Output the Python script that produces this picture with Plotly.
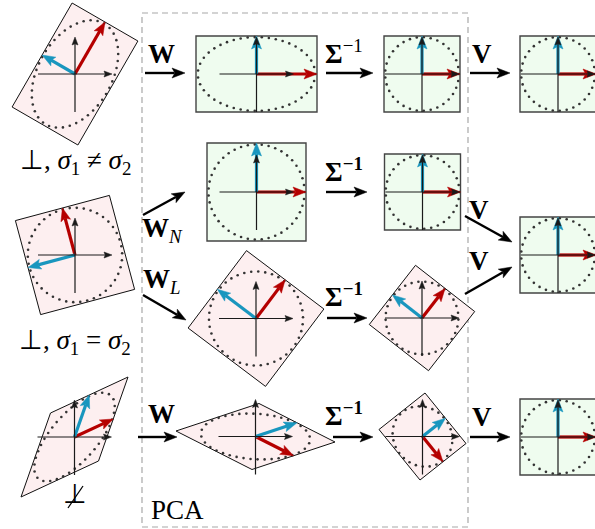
import numpy as np
import plotly.graph_objects as go

W, H = 595, 529

# Each panel: centre and the two basis vectors (red = first component,
# blue = second component), in screen pixels with y pointing down.
panel_cx = [75, 256.5, 422, 558, 75, 256.5, 422.5, 256, 558, 422, 74.5, 255.5, 422.5, 558]
panel_cy = [74, 74, 74, 74, 255, 192, 192, 318.5, 255, 318, 437, 436.5, 436.5, 437]
red_dx = [30.0, 60.5, 38, 38, -12.6, 49.5, 38, 29.2, 38, 23.1, 38.75, 38.0, 20.5, 38]
red_dy = [-52.0, 0, 0, 0, -47.0, 0, 0, -38.7, 0, -29.6, -18.0, 19.25, 25.25, 0]
blue_dx = [-32.9, 0, 0, 0, -47.0, 0, 0, -38.7, 0, -29.6, 14.75, 41.5, 23.0, 0]
blue_dy = [-19.0, -38, -38, -38, 12.6, -49, -38, -29.2, -38, -23.1, -42.0, -13.75, -18.25, -38]
panel_kind = ["raw", "white", "white", "white", "raw", "white", "white", "raw",
              "white", "raw", "raw", "raw", "raw", "white"]

# Transformation arrows between panels: label, start, end, label position
flow_labels = ["<b>W</b>", "<b>Σ</b><sup>−1</sup>", "<b>V</b>",
               "<b>W</b><sub><i>N</i></sub>", "<b>W</b><sub><i>L</i></sub>",
               "<b>Σ</b><sup><b>−1</b></sup>", "<b>Σ</b><sup><b>−1</b></sup>",
               "<b>V</b>", "<b>V</b>",
               "<b>W</b>", "<b>Σ</b><sup><b>−1</b></sup>", "<b>V</b>"]
flow_from = [(145, 73), (326, 73), (470, 73),
             (143, 215), (143, 295), (326, 192), (327, 318), (465, 216), (465, 294),
             (138, 437), (333, 437), (470, 437)]
flow_to = [(185, 73), (373, 73), (510, 73),
           (185, 192), (186, 320), (367, 192), (367, 318), (512, 242), (512, 267),
           (177, 437), (373, 437), (510, 437)]
flow_label_xy = [(161, 54), (344, 52), (482, 54),
                 (162, 230), (162, 281), (344, 170), (344, 295), (479, 210), (479, 261),
                 (161, 414), (344, 414), (482, 417)]

case_labels = ["⊥, <i>σ</i><sub>1</sub> ≠ <i>σ</i><sub>2</sub>",
               "⊥, <i>σ</i><sub>1</sub> = <i>σ</i><sub>2</sub>"]
case_label_xy = [(75, 162), (75, 342)]

RED = "#b50000"
BLUE = "#1996be"
PINK = "#fdeff0"
GREEN = "#effcef"
FONT = "Liberation Serif"
FS = 27

shapes = []
annotations = []


def arrow(x0, y0, x1, y1, color, width, head_len, head_w, notch=0.25, layer="above"):
    d = np.array([x1 - x0, y1 - y0], dtype=float)
    L = np.hypot(*d)
    u = d / L
    n = np.array([-u[1], u[0]])
    tip = np.array([x1, y1], dtype=float)
    base = tip - head_len * u
    inner = tip - head_len * (1 - notch) * u
    stop = tip - head_len * 0.8 * u
    shapes.append(dict(type="line", x0=x0, y0=y0, x1=stop[0], y1=stop[1],
                       line=dict(color=color, width=width), layer=layer))
    p1 = base + n * head_w / 2
    p2 = base - n * head_w / 2
    path = (f"M{tip[0]:.2f},{tip[1]:.2f} L{p1[0]:.2f},{p1[1]:.2f} "
            f"L{inner[0]:.2f},{inner[1]:.2f} L{p2[0]:.2f},{p2[1]:.2f} Z")
    shapes.append(dict(type="path", path=path, fillcolor=color,
                       line=dict(color=color, width=0.5), layer=layer))


# outline of the PCA block
shapes.append(dict(type="rect", x0=142, y0=13, x1=468, y1=527,
                   line=dict(color="#a8a8a8", width=1.2, dash="6px,4px"), layer="below"))

dot_x, dot_y = [], []
for i in range(len(panel_cx)):
    c = np.array([panel_cx[i], panel_cy[i]])
    r = np.array([red_dx[i], red_dy[i]])
    b = np.array([blue_dx[i], blue_dy[i]])
    corners = [c + r + b, c + r - b, c - r - b, c - r + b]
    path = "M" + " L".join(f"{p[0]:.2f},{p[1]:.2f}" for p in corners) + " Z"
    if panel_kind[i] == "white":
        shapes.append(dict(type="path", path=path, fillcolor=GREEN,
                           line=dict(color="#444444", width=1.4), layer="below"))
    else:
        shapes.append(dict(type="path", path=path, fillcolor=PINK,
                           line=dict(color="#111111", width=1.0), layer="below"))

    # unit circle mapped through the panel's basis, sampled at even spacing
    t = np.linspace(0, 2 * np.pi, 2000)
    pts = c[:, None] + 0.97 * (np.outer(r, np.cos(t)) + np.outer(b, np.sin(t)))
    seg = np.hypot(np.diff(pts[0]), np.diff(pts[1]))
    s = np.concatenate([[0], np.cumsum(seg)])
    n_dots = int(round(s[-1] / 7.0))
    targets = np.linspace(0, s[-1], n_dots, endpoint=False)
    dot_x.extend(np.interp(targets, s, pts[0]))
    dot_y.extend(np.interp(targets, s, pts[1]))

    # basis vectors
    arrow(c[0], c[1], c[0] + r[0], c[1] + r[1], RED, 3.2, 13, 10, 0.2)
    arrow(c[0], c[1], c[0] + b[0], c[1] + b[1], BLUE, 3.2, 13, 10, 0.2)

# coordinate axes drawn over the vectors
for i in range(len(panel_cx)):
    cx, cy = panel_cx[i], panel_cy[i]
    arrow(cx - 37, cy, cx + 37, cy, "#1a1a1a", 1.2, 8, 6, 0.15)
    arrow(cx, cy + 38, cx, cy - 37, "#1a1a1a", 1.2, 8, 6, 0.15)

# transformation arrows and their labels
for lab, p0, p1, pl in zip(flow_labels, flow_from, flow_to, flow_label_xy):
    arrow(p0[0], p0[1], p1[0], p1[1], "#000000", 2.4, 13, 10, 0.22)
    annotations.append(dict(x=pl[0], y=pl[1], text=lab, showarrow=False,
                            xanchor="center", yanchor="middle",
                            font=dict(family=FONT, size=FS, color="black")))

for lab, pl in zip(case_labels, case_label_xy):
    annotations.append(dict(x=pl[0], y=pl[1], text=lab, showarrow=False,
                            xanchor="center", yanchor="middle",
                            font=dict(family=FONT, size=FS, color="black")))

# "not perpendicular" symbol
annotations.append(dict(x=75, y=494, text="⊥", showarrow=False,
                        xanchor="center", yanchor="middle",
                        font=dict(family=FONT, size=FS, color="black")))
shapes.append(dict(type="line", x0=68, y0=508, x1=83, y1=486,
                   line=dict(color="black", width=1.3)))

annotations.append(dict(x=149, y=510, text="PCA", showarrow=False,
                        xanchor="left", yanchor="middle",
                        font=dict(family=FONT, size=FS, color="black")))

fig = go.Figure()
fig.add_trace(go.Scatter(x=dot_x, y=dot_y, mode="markers",
                         marker=dict(size=2.6, color="#333333"),
                         hoverinfo="skip"))

fig.update_layout(
    width=W, height=H,
    margin=dict(l=0, r=0, t=0, b=0),
    paper_bgcolor="white", plot_bgcolor="white",
    showlegend=False,
    shapes=shapes, annotations=annotations,
    xaxis=dict(range=[0, W], visible=False, fixedrange=True),
    yaxis=dict(range=[H, 0], visible=False, fixedrange=True),
)

fig.write_html("out.html")
